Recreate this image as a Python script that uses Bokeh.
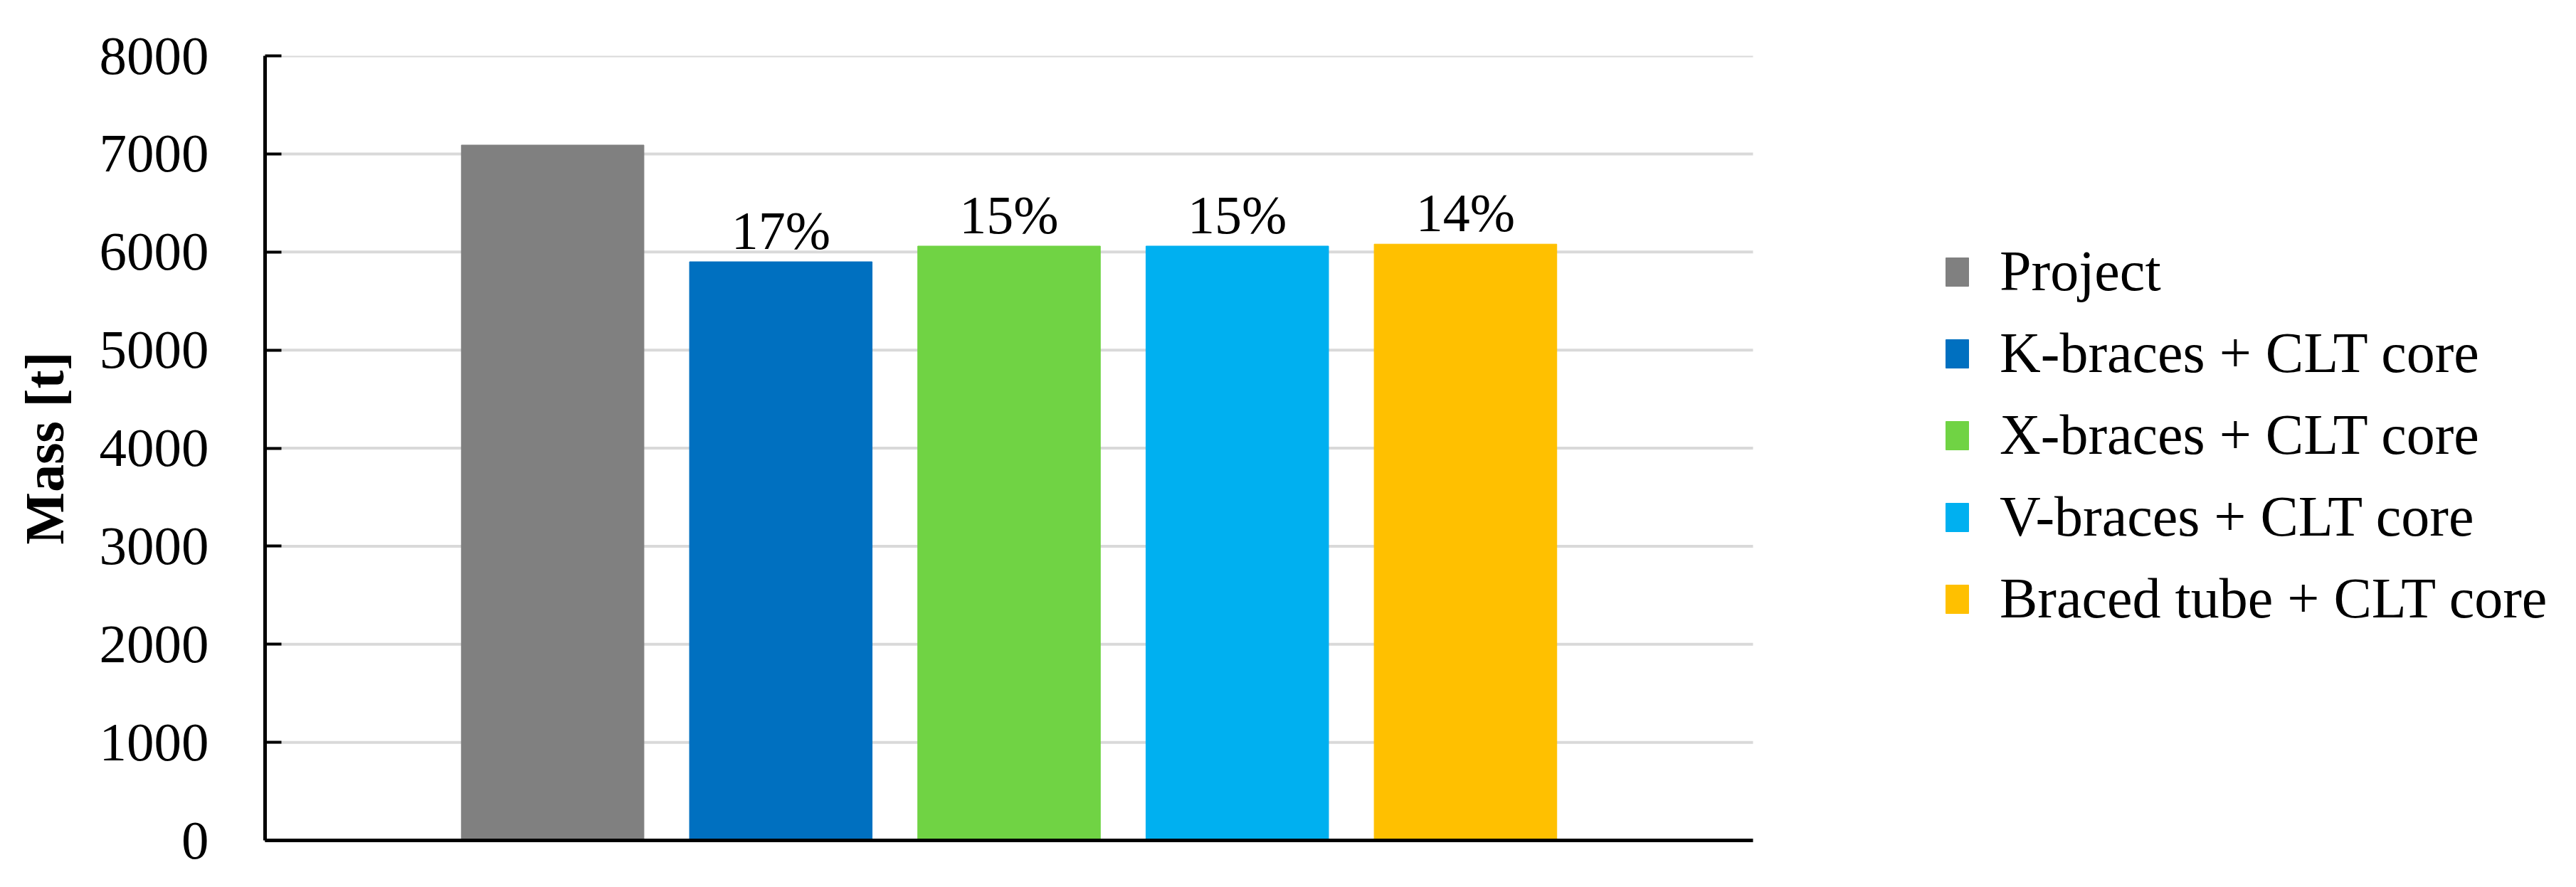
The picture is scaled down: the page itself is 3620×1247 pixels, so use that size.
from bokeh.plotting import figure
from bokeh.models import ColumnDataSource, Range1d, FixedTicker, Legend, LegendItem
from bokeh.core.properties import value
from bokeh.embed import file_html
from bokeh.resources import INLINE

# ---- data ----
categories = ["Project", "K-braces + CLT core", "X-braces + CLT core",
              "V-braces + CLT core", "Braced tube + CLT core"]
mass = [7090, 5900, 6060, 6060, 6080]
reduction_labels = ["", "17%", "15%", "15%", "14%"]
colors = ["#808080", "#0070c0", "#70d344", "#00b0f0", "#ffc000"]
positions = [1, 2, 3, 4, 5]
y_ticks = [0, 1000, 2000, 3000, 4000, 5000, 6000, 7000, 8000]

FONT = "Liberation Serif"

# plot-area extent along x (in data units); the frame extends further right to hold the legend
X0, X1 = -0.26, 6.26

src = ColumnDataSource(dict(x=positions, top=mass, name=categories,
                            color=colors, lab=reduction_labels))

W, H = 3604, 1231
FL, FT, FB = 372, 78, 1181
frame_w = W - FL
px_per_unit = (2463 - FL) / (X1 - X0)
p = figure(width=W, height=H, output_backend="svg", toolbar_location=None,
           x_range=Range1d(X0, X0 + frame_w / px_per_unit), y_range=Range1d(0, 8000),
           min_border_left=FL, min_border_right=0,
           min_border_top=FT, min_border_bottom=H - FB)
p.outline_line_color = None
p.background_fill_color = "white"
p.border_fill_color = "white"

# horizontal gridlines, limited to the plot area
grid_y = y_ticks[1:]
p.segment(x0=[X0] * len(grid_y), x1=[X1] * len(grid_y), y0=grid_y, y1=grid_y,
          line_color="#d9d9d9", line_width=4)

bars = p.vbar(x="x", top="top", width=0.8, color="color", source=src)

p.text(x="x", y="top", text="lab", source=src, text_align="center",
       text_baseline="bottom", y_offset=-2,
       text_font=value(FONT), text_font_size="76px", text_color="black")

# y axis
p.yaxis.ticker = FixedTicker(ticks=y_ticks)
p.yaxis.axis_label = "Mass [t]"
p.yaxis.axis_label_text_font = FONT
p.yaxis.axis_label_text_font_style = "bold"
p.yaxis.axis_label_text_font_size = "78px"
p.yaxis.axis_label_text_color = "black"
p.yaxis.axis_label_standoff = 31
p.yaxis.major_label_text_font = FONT
p.yaxis.major_label_text_font_size = "77px"
p.yaxis.major_label_text_color = "black"
p.yaxis.major_label_standoff = 79
p.yaxis.axis_line_width = 5
p.yaxis.axis_line_color = "black"
p.yaxis.major_tick_in = 23
p.yaxis.major_tick_out = 0
p.yaxis.major_tick_line_width = 4
p.yaxis.minor_tick_line_color = None

# x axis: only the baseline, limited to the plot area
p.xaxis.ticker = FixedTicker(ticks=[])
p.xaxis.bounds = (X0, X1)
p.xaxis.axis_line_width = 5
p.xaxis.axis_line_color = "black"
p.xaxis.major_tick_line_color = None
p.xaxis.minor_tick_line_color = None
p.xaxis.major_label_text_font_size = "0px"

p.xgrid.grid_line_color = None
p.ygrid.grid_line_color = None

legend = Legend(items=[LegendItem(label=categories[i], renderers=[bars], index=i)
                       for i in range(len(categories))],
                location=(2358, 294))
legend.padding = 0
legend.margin = 0
legend.border_line_color = None
legend.background_fill_alpha = 0
legend.label_text_font = FONT
legend.label_text_font_size = "80px"
legend.label_text_color = "black"
legend.glyph_width = 40
legend.glyph_height = 50
legend.label_standoff = 40
legend.spacing = 24
p.add_layout(legend, "center")

open("out.html", "w").write(file_html(p, INLINE))
